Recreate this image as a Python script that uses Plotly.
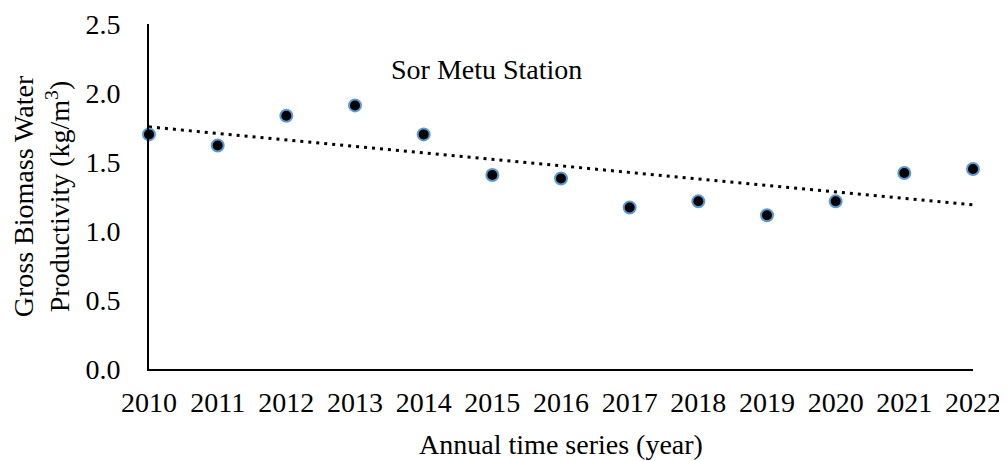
import numpy as np
import plotly.graph_objects as go

years = [2010, 2011, 2012, 2013, 2014, 2015, 2016, 2017, 2018, 2019, 2020, 2021, 2022]
gbwp = [1.70, 1.62, 1.835, 1.91, 1.70, 1.406, 1.38, 1.17, 1.215, 1.114, 1.215, 1.42, 1.449]
y_ticks = [0.0, 0.5, 1.0, 1.5, 2.0, 2.5]

slope, intercept = np.polyfit(years, gbwp, 1)
trend = [slope * x + intercept for x in years]

FONT = "Liberation Serif"
FS = 28

fig = go.Figure()
fig.add_trace(go.Scatter(
    x=years, y=trend, mode="lines",
    line=dict(color="black", width=3, dash="3px,5px"),
    hoverinfo="skip", showlegend=False, cliponaxis=False,
))
fig.add_trace(go.Scatter(
    x=years, y=gbwp, mode="markers",
    marker=dict(color="black", size=12, line=dict(color="#5B9BD5", width=2)),
    showlegend=False, cliponaxis=False,
))

# page body has an 8px default margin, so the figure is 8px smaller each way
fig.update_layout(
    width=999, height=453,
    margin=dict(l=141, r=34, t=16, b=92),
    plot_bgcolor="white", paper_bgcolor="white",
    font=dict(family=FONT, size=FS, color="black"),
    xaxis=dict(
        range=[2010, 2022], tickmode="array", tickvals=years,
        ticktext=[str(y) for y in years], automargin=False,
        showgrid=False, zeroline=False, showline=True,
        linecolor="black", linewidth=2, ticks="",
        tickfont=dict(family=FONT, size=FS, color="black"), ticklabelstandoff=7,
        title=dict(text="Annual time series (year)",
                   font=dict(family=FONT, size=FS, color="black"), standoff=18),
    ),
    yaxis=dict(
        range=[0, 2.5], tickmode="array", tickvals=y_ticks,
        ticktext=[f"{v:.1f}" for v in y_ticks], automargin=False,
        showgrid=False, zeroline=False, showline=True,
        linecolor="black", linewidth=2, ticks="",
        tickfont=dict(family=FONT, size=FS, color="black"), ticklabelstandoff=21,
        title=dict(text="Gross Biomass Water<br>Productivity (kg/m<sup>3</sup>)",
                   font=dict(family=FONT, size=FS, color="black"), standoff=14),
    ),
    annotations=[dict(
        x=0.41, y=2.17, xref="paper", yref="y",
        text="Sor Metu Station", showarrow=False,
        font=dict(size=FS, family=FONT, color="black"),
        xanchor="center", yanchor="middle",
    )],
)

fig.write_html("out.html")
